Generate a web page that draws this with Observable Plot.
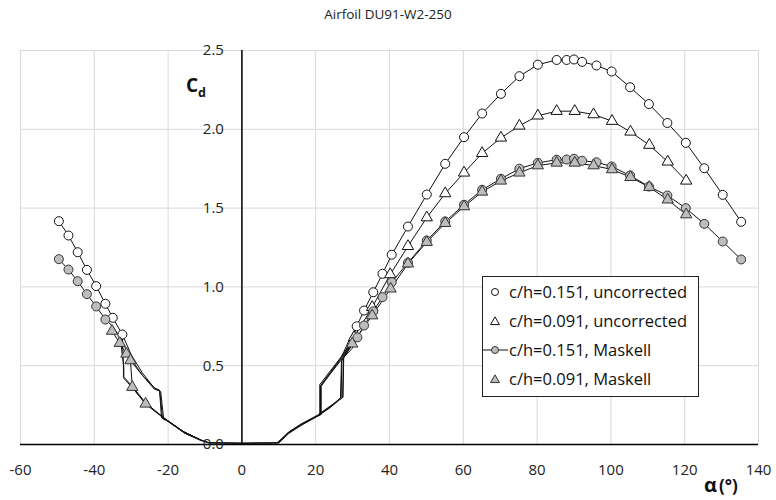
<!DOCTYPE html>
<html><head><meta charset="utf-8">
<script src="https://cdn.jsdelivr.net/npm/d3@7"></script>
<script src="https://cdn.jsdelivr.net/npm/@observablehq/plot@0.6"></script>
<style>
body{margin:0;background:#fff;font-family:"Open Sans",sans-serif;}
#title{width:776px;height:28px;line-height:28px;text-align:center;font-size:13.5px;color:#222;}
#chart svg{display:block;}
</style></head><body>
<div id="title">Airfoil DU91-W2-250</div>
<div id="chart"></div>
<script>
// ---------- tick labels ----------
const xTicks = [-60,-40,-20,0,20,40,60,80,100,120,140];
const yTicks = [0,0.5,1.0,1.5,2.0,2.5];

// ---------- series names ----------
const seriesNames = ["c/h=0.151, uncorrected","c/h=0.091, uncorrected","c/h=0.151, Maskell","c/h=0.091, Maskell"];

// ---------- c/h=0.151 uncorrected (open circles) ----------
const c151u_left_a  = [-49.6,-47,-44.5,-42,-39.5,-37,-35,-32.4];
const c151u_left_cd = [1.417,1.326,1.22,1.108,1.005,0.893,0.804,0.698];
const c151u_right_a  = [31.1,33.1,35.6,38.1,40.6,45,50.1,55.1,60.2,65.1,70.2,75.2,80.2,85.3,88,90,92.2,96.1,100.2,105.2,110.3,115.3,120.3,125.3,130.3,135.3];
const c151u_right_cd = [0.75,0.85,0.966,1.083,1.204,1.383,1.586,1.781,1.95,2.10,2.225,2.337,2.41,2.44,2.44,2.443,2.428,2.405,2.367,2.267,2.16,2.04,1.914,1.753,1.584,1.413];
const c151u_sweep = [[-32.4,0.698],[-30,0.57],[-27,0.455],[-23.8,0.36],[-22.3,0.345],[-21.5,0.165],[-20,0.15],[-15.7,0.078],[-11.2,0.03],[-9,0.012],[0,0.008],[9.5,0.01],[12.5,0.075],[16,0.125],[20.4,0.18],[24,0.24],[26.9,0.30],[27.1,0.56],[29,0.66],[31.1,0.75]];
const c151u_stallL = [[-11.2,0.03],[-15.7,0.08],[-20.2,0.152],[-26,0.262],[-29.7,0.37],[-32.1,0.43],[-32.1,0.5],[-32.4,0.698]];
const c151u_stallR = [[31.1,0.75],[30,0.66],[26.7,0.544],[21.3,0.374],[21.3,0.19],[20.4,0.18]];

// ---------- c/h=0.091 uncorrected (open triangles) ----------
const c091u_right_a  = [30.4,35.3,40.2,45,50.1,55.1,60.2,65.1,70.2,75.2,80.2,85.3,90.2,95.3,100.3,105.3,110.4,115.4,120.4];
const c091u_right_cd = [0.68,0.871,1.079,1.258,1.44,1.593,1.724,1.848,1.946,2.022,2.086,2.115,2.115,2.094,2.052,1.984,1.90,1.794,1.673];
const c091u_sweep = [[10,0.012],[12.7,0.08],[16,0.13],[20.4,0.185],[24,0.245],[27.4,0.30],[27.6,0.56],[30.4,0.68]];
const c091u_stallR = [[30.4,0.68],[26.7,0.55],[21.1,0.38],[21.1,0.195]];

// ---------- c/h=0.151 Maskell (grey circles) ----------
const c151m_left_a  = [-49.6,-47,-44.5,-42,-39.5,-37];
const c151m_left_cd = [1.176,1.11,1.036,0.954,0.876,0.793];
const c151m_right_a  = [31.3,33.1,35.6,38.1,40.6,45,50.1,55.1,60.2,65.1,70.2,75.2,80.2,85.3,88,90,92.2,96.1,100.2,105.2,110.3,115.3,120.3,125.3,130.3,135.3];
const c151m_right_cd = [0.68,0.755,0.845,0.935,1.03,1.153,1.294,1.415,1.521,1.616,1.686,1.75,1.787,1.807,1.808,1.813,1.80,1.791,1.764,1.707,1.637,1.58,1.50,1.40,1.288,1.174];
const c151m_sweep = [[-37,0.793],[-35,0.75],[-33,0.68],[-30.5,0.56],[-27,0.44],[-23.5,0.355],[-22,0.335],[-21.2,0.16],[-20,0.148],[-15.5,0.072],[-11,0.025],[-9,0.01],[0,0.008],[10,0.01],[12.7,0.07],[16,0.12],[20.4,0.178],[24,0.235],[26.7,0.29],[27,0.53],[29,0.6],[31.3,0.68]];
const c151m_stallL = [[-11,0.025],[-15.5,0.072],[-20,0.145],[-26,0.255],[-29.7,0.36],[-32,0.42],[-32,0.49],[-33,0.68]];
const c151m_stallR = [[31.3,0.68],[29.9,0.61],[26.7,0.53],[21.3,0.37],[21.3,0.19],[20.4,0.178]];

// ---------- c/h=0.091 Maskell (grey triangles) ----------
const c091m_left_a  = [-35.2,-33.1,-31.3,-30.2,-29.7,-26.1];
const c091m_left_cd = [0.72,0.643,0.575,0.533,0.364,0.258];
const c091m_right_a  = [29.9,35.3,40.3,45,50.1,55.1,60.2,65.1,70.2,75.2,80.2,85.3,90.2,95.3,100.3,105.3,110.4,115.4,120.4];
const c091m_right_cd = [0.639,0.818,0.988,1.147,1.284,1.404,1.51,1.603,1.673,1.724,1.77,1.787,1.787,1.77,1.745,1.696,1.633,1.553,1.459];
const c091m_sweep = [[-35.2,0.72],[-33.1,0.643],[-31.3,0.575],[-30.2,0.533],[-27,0.44],[-23.8,0.353],[-22.3,0.34],[-21.8,0.17],[-20,0.15],[-15.7,0.076],[-11.2,0.028],[-9,0.011],[0,0.008],[10,0.011],[12.7,0.075],[16,0.125],[20.4,0.18],[24,0.24],[27.3,0.30],[27.5,0.55],[29.9,0.639]];
const c091m_stallL = [[-11.2,0.028],[-16,0.085],[-20.2,0.152],[-26.1,0.258],[-29.7,0.364],[-30.2,0.533]];
const c091m_stallR = [[29.9,0.639],[26.7,0.54],[21.5,0.37],[21.5,0.19],[20.4,0.18]];

// ---------- build tables ----------
const zip = (as, cs) => as.map((a,i)=>({a, cd:cs[i]}));
const pts = (arr) => arr.map(([a,cd])=>({a,cd}));
const lineRows = [];
function addLine(key, rows){ rows.forEach(r=>lineRows.push({...r, key})); }
addLine("s1L", zip(c151u_left_a,c151u_left_cd));
addLine("s1R", zip(c151u_right_a,c151u_right_cd));
addLine("s1a", pts(c151u_sweep)); addLine("s1b", pts(c151u_stallL)); addLine("s1c", pts(c151u_stallR));
addLine("s2R", zip(c091u_right_a,c091u_right_cd));
addLine("s2a", pts(c091u_sweep)); addLine("s2c", pts(c091u_stallR));
addLine("s3L", zip(c151m_left_a,c151m_left_cd));
addLine("s3R", zip(c151m_right_a,c151m_right_cd));
addLine("s3a", pts(c151m_sweep)); addLine("s3b", pts(c151m_stallL)); addLine("s3c", pts(c151m_stallR));
addLine("s4R", zip(c091m_right_a,c091m_right_cd));
addLine("s4a", pts(c091m_sweep)); addLine("s4b", pts(c091m_stallL)); addLine("s4c", pts(c091m_stallR));

const s1dots = zip(c151u_left_a,c151u_left_cd).concat(zip(c151u_right_a,c151u_right_cd));
const s2dots = zip(c091u_right_a,c091u_right_cd);
const s3dots = zip(c151m_left_a,c151m_left_cd).concat(zip(c151m_right_a,c151m_right_cd));
const s4dots = zip(c091m_left_a,c091m_left_cd).concat(zip(c091m_right_a,c091m_right_cd));

const GREY = "#bdbdbd";
const plot = Plot.plot({
  width: 776, height: 472,
  marginLeft: 20, marginRight: 18, marginTop: 22, marginBottom: 56,
  x: {domain: [-60,140], axis: null},
  y: {domain: [0,2.5], axis: null},
  style: {fontFamily: "'Open Sans', sans-serif", fontSize: "15px", color: "#222", background: "#fff", overflow: "visible"},
  marks: [
    Plot.ruleX(xTicks, {x: d=>d, y1: ()=>0, y2: ()=>2.5, stroke: "#d9d9d9", strokeWidth: 1}),
    Plot.ruleY(yTicks.filter(d=>d>0), {y: d=>d, x1: ()=>-60, x2: ()=>140, stroke: "#d9d9d9", strokeWidth: 1}),
    Plot.ruleY([0], {x1: ()=>-60, x2: ()=>140, stroke: "#000", strokeWidth: 1.5}),
    Plot.ruleX([0], {y1: ()=>0, y2: ()=>2.5, stroke: "#000", strokeWidth: 1.5}),
    Plot.line(lineRows, {x: "a", y: "cd", z: "key", stroke: "#111", strokeWidth: 1, curve: "linear"}),
    Plot.dot(s1dots, {x: "a", y: "cd", r: 4.5, fill: "#fff", stroke: "#111", strokeWidth: 1}),
    Plot.dot(s2dots, {x: "a", y: "cd", r: 4.2, symbol: "triangle", fill: "#fff", stroke: "#111", strokeWidth: 1}),
    Plot.dot(s3dots, {x: "a", y: "cd", r: 4.5, fill: GREY, stroke: "#333", strokeWidth: 1}),
    Plot.dot(s4dots, {x: "a", y: "cd", r: 4.2, symbol: "triangle", fill: GREY, stroke: "#333", strokeWidth: 1}),
    Plot.text(yTicks, {x: ()=>0, y: d=>d, text: d=>d.toFixed(1), textAnchor: "end", dx: -18, fill: "#222", fontSize: 15}),
    Plot.text(xTicks, {x: d=>d, y: ()=>0, text: d=>String(d), dy: 26, fill: "#222", fontSize: 15})
  ]
});
document.getElementById("chart").appendChild(plot);

// ---------- annotations & legend ----------
const svg = d3.select(plot);
const T = 28; // title offset
const cdl = svg.append("text").attr("x", 186).attr("y", 92-T).attr("text-anchor","start").attr("font-weight","bold").attr("font-size",19).attr("fill","#111");
cdl.append("tspan").text("C");
cdl.append("tspan").attr("font-size",12.5).attr("dy",5).text("d");
const al = svg.append("text").attr("x", 704).attr("y", 492-T).attr("text-anchor","start").attr("font-weight","bold").attr("fill","#111");
al.append("tspan").attr("font-size",20).text("α");
al.append("tspan").attr("font-size",17).attr("dx",2).text("(°)");

const lg = svg.append("g").attr("font-size",16.5).attr("fill","#111").attr("text-anchor","start");
lg.append("rect").attr("x",482.5).attr("y",276.5-T).attr("width",216).attr("height",120).attr("fill","#fff").attr("stroke","#222").attr("stroke-width",1);
const rows = [292,321,350,379].map(y=>y-T);
const mx = 495;
lg.append("circle").attr("cx",mx).attr("cy",rows[0]).attr("r",3.5).attr("fill","#fff").attr("stroke","#111");
lg.append("path").attr("transform",`translate(${mx},${rows[1]+1})`).attr("d",d3.symbol(d3.symbolTriangle,34)()).attr("fill","#fff").attr("stroke","#111");
lg.append("line").attr("x1",483).attr("x2",508).attr("y1",rows[2]).attr("y2",rows[2]).attr("stroke","#111");
lg.append("circle").attr("cx",mx).attr("cy",rows[2]).attr("r",3.5).attr("fill",GREY).attr("stroke","#333");
lg.append("path").attr("transform",`translate(${mx},${rows[3]+1})`).attr("d",d3.symbol(d3.symbolTriangle,34)()).attr("fill",GREY).attr("stroke","#333");
seriesNames.forEach((n,i)=>{
  lg.append("text").attr("x",509).attr("y",rows[i]).attr("dy","0.35em").text(n);
});
</script></body></html>
